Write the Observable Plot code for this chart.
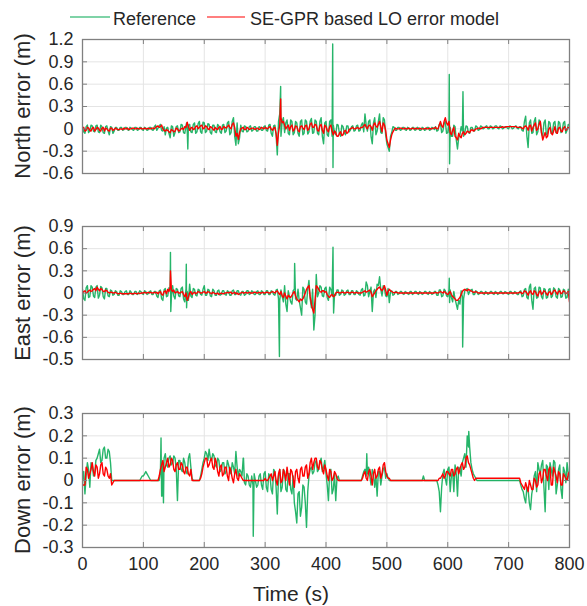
<!DOCTYPE html>
<html><head><meta charset="utf-8">
<script src="https://cdn.jsdelivr.net/npm/d3@7"></script>
<script src="https://cdn.jsdelivr.net/npm/@observablehq/plot@0.6"></script>
<style>
body{margin:0;background:#fff;font-family:"Liberation Sans",Arial,sans-serif;}
#root{position:relative;width:587px;height:606px;overflow:hidden;background:#fff;}
#root svg{position:absolute;left:0;}
.legline{position:absolute;height:2px;}
.legtext{position:absolute;font-size:18px;line-height:1;color:#262626;white-space:nowrap;}
.ylab{position:absolute;font-size:22px;line-height:1;color:#262626;white-space:nowrap;transform:translate(-50%,-50%) rotate(-90deg);}
</style></head><body><div id="root"></div>
<script>
// sampling step of the series (s); "Mid" arrays hold the samples halfway between
const step = 4;
const xTicks = [0,100,200,300,400,500,600,700,800];
const xTickLabels = ["0","100","200","300","400","500","600","700","800"];

const northTicks = [-0.6,-0.3,0,0.3,0.6,0.9,1.2];
const northTickLabels = ["-0.6","-0.3","0","0.3","0.6","0.9","1.2"];
const eastTicks = [-0.9,-0.6,-0.3,0,0.3,0.6,0.9];
const eastTickLabels = ["-0.5","-0.6","-0.3","0","0.3","0.6","0.9"];
const downTicks = [-0.3,-0.2,-0.1,0,0.1,0.2,0.3];
const downTickLabels = ["-0.3","-0.2","-0.1","0","0.1","0.2","0.3"];

const seriesNames = ["Reference","SE-GPR based LO error model"];
const panelTitles = ["North error (m)","East error (m)","Down error (m)"];
const xTitle = "Time (s)";

// North, reference
const northRef = [
0.02,-0.06,0.05,-0.03,0.04, -0.04,0.05,-0.05,0.03,-0.06, 0.04,-0.08,0.02,-0.03,0.02, -0.02,0.02,-0.01,0.02,-0.02,
0.01,-0.02,0.02,-0.01,0.02, -0.02,0.01,-0.01,0.02,-0.02, 0.05,0.01,0.06,-0.03,-0.08, 0.02,-0.12,0.03,-0.05,0.04,
-0.04,0.05,-0.06,-0.02,0.06, -0.05,0.08,-0.04,0.1,-0.06, 0.08,-0.03,0.06,-0.07,0.05, -0.05,0.04,-0.06,0.06,-0.03,
0.1,-0.05,0.15,-0.22,-0.2, 0.05,-0.04,0.03,-0.03,0.04, -0.02,0.03,-0.03,0.02,-0.02, 0.04,-0.03,0.06,-0.1,0.05,
-0.35,0.2,0.1,-0.05,0.12, -0.08,0.1,-0.05,0.08,-0.1, 0.12,-0.06,0.1,-0.04,0.14, -0.05,0.1,-0.08,0.15,-0.2,
0.1,-0.1,0.12,0.05,-0.08, 0.05,-0.1,0.03,-0.08,0.04, -0.02,0.04,-0.02,0.05,-0.02, 0.08,0.2,-0.03,0.12,-0.2,
0.15,-0.03,0.2,-0.06,0.12, -0.2,-0.3,-0.05,0.02,-0.02, 0.02,-0.01,0.02,-0.02,0.01, -0.01,0.02,-0.01,0.01,-0.02,
0.01,-0.01,0.02,-0.01,0.01, 0.03,-0.02,0.08,-0.03,0.1, -0.05,0.02,-0.1,0.03,-0.27, -0.08,-0.03,-0.05,0.03,-0.06,
0.02,-0.03,0.03,-0.01,0.03, 0.01,0.04,0,0.03,0.01, 0.04,0,0.03,0.01,0.03, 0,0.03,0.01,0.04,0,
0.03,-0.03,0.17,-0.25,0.12, -0.05,0.15,-0.04,0.1,-0.1, 0.12,-0.06,0.08,-0.05,0.1, -0.06,0.08,-0.03,0.1,-0.02,
0.05];
const northRefMid = [
-0.04,0.03,-0.05,0.05,-0.03, 0.04,-0.04,0.05,-0.05,0.03, -0.03,0.03,-0.06,0.02,-0.02, 0.02,-0.02,0.02,-0.01,0.02,
-0.01,0.02,-0.02,0.02,-0.01, 0.02,-0.02,0.02,-0.01,0.03, -0.02,0.04,-0.02,0.03,0.01, -0.06,0.04,-0.1,0.03,-0.05,
0.06,-0.05,0.04,0.05,-0.04, 0.06,-0.06,0.07,-0.04,0.09, -0.05,0.07,-0.05,0.05,-0.04, 0.06,-0.04,0.05,-0.05,0.08,
-0.08,0.1,-0.1,0.08,-0.12, -0.03,0.04,-0.04,0.03,-0.03, 0.03,-0.03,0.03,-0.02,0.03, -0.02,0.05,-0.06,0.04,-0.08,
0.1,-0.1,0.15,0.08,-0.06, 0.12,-0.08,0.1,-0.06,0.1, -0.08,0.12,-0.07,0.1,-0.06, 0.12,-0.06,0.1,-0.1,0.08,
-0.08,0.1,-0.1,-0.05,0.06, -0.06,0.05,-0.05,0.04,-0.04, 0.03,-0.03,0.04,-0.03,0.05, -0.04,0.05,0.1,-0.1,0.08,
-0.08,0.1,-0.05,0.15,-0.08, -0.25,-0.1,0.03,-0.02,0.02, -0.02,0.02,-0.01,0.02,-0.02, 0.02,-0.02,0.02,-0.02,0.02,
-0.02,0.02,-0.02,0.02,-0.01, -0.03,0.06,-0.05,0.07,-0.06, 0.08,-0.1,0.05,-0.15,-0.12, 0.03,-0.1,0.04,-0.05,0.02,
-0.02,0.04,-0.02,0.04,0, 0.03,0,0.04,0,0.04, 0.01,0.04,0,0.03,0.01, 0.04,0,0.03,0.01,0.03,
-0.02,0.1,-0.1,0.08,-0.06, 0.1,-0.08,0.12,-0.06,0.08, -0.08,0.1,-0.06,0.08,-0.05, 0.1,-0.05,0.08,-0.06,0.06];
const northRefSpikes = [[171,0.08],[173,-0.27],[325.5,0.57],[411,1.14],[411.5,-0.52],[602.5,0.73],[603,-0.47],[625,0.5]];

// North, SE-GPR model
const northModel = [
0,-0.03,0.02,-0.02,0.01, -0.03,0.02,-0.02,0.01,-0.03, 0,-0.03,0.01,-0.01,0, -0.01,0,0.01,0,-0.01,
0,0.01,0,0,0.01, 0,0,0.01,0,0.01, 0.02,0.04,0.03,0,-0.03, -0.02,-0.05,-0.02,-0.03,0,
-0.02,0.01,0.03,0.09,-0.02, 0.02,0,0.04,0.02,0.05, 0.01,0.03,-0.01,0.02,-0.02, 0,0.02,-0.01,0.03,0.01,
0.05,0,0.08,-0.1,-0.14, 0,0.02,-0.01,0.01,0, 0.01,-0.01,0.01,0,0.01, 0.02,0,0.03,-0.02,0.02,
-0.22,0.05,0.08,0.05,0.03, -0.02,0.05,-0.01,0.03,-0.04, 0.04,-0.01,0.05,0,0.08, 0.02,0.05,-0.03,0.06,-0.06,
0.03,-0.04,0.05,-0.08,-0.05, -0.1,-0.04,-0.08,-0.02,-0.05, 0,0.02,0,0.02,0.01, 0.02,0.06,0,0.05,-0.02,
0.08,0.02,0.1,-0.04,0.05, -0.15,-0.25,-0.08,-0.01,0, 0,0.01,0,0,0.01, 0,0,0.01,0,0,
0,0.01,0,0,0.01, 0.02,0,0.1,0.02,0.15, 0.05,-0.05,-0.02,-0.1,-0.15, -0.1,-0.06,-0.08,-0.03,-0.05,
-0.01,-0.02,0,0.01,0.01, 0.02,0.02,0.02,0.02,0.02, 0.02,0.02,0.02,0.02,0.03, 0.03,0.03,0.03,0.03,0.02,
0.02,0,0.04,-0.02,0.05, 0.02,0.08,0,0.1,-0.15, -0.05,-0.1,0.02,-0.08,0.03, -0.06,0.02,-0.04,0.03,0,
0.02];
const northModelMid = [
0.02,-0.02,0.01,-0.03,0.02, -0.01,0.01,-0.03,0.02,0.01, -0.02,0.01,-0.02,0.01,-0.01, 0,-0.01,0,0.01,0,
0.01,0,0.01,0,0, 0.01,0,0,0.01,0, 0.03,0.02,0.05,-0.02,-0.01, -0.04,-0.01,-0.04,0.01,-0.03,
0,-0.01,0.02,0.03,0.01, -0.01,0.03,0,0.04,0, 0.04,0,0.03,0,0.02, -0.01,0.03,0,0.02,0.03,
0.02,0.06,0.02,-0.06,-0.05, 0.01,-0.01,0.02,-0.01,0.01, 0,0.01,-0.01,0.02,0, 0.01,0.02,0,0.01,-0.06,
-0.05,0.15,0.1,0,0.05, 0.03,-0.03,0.04,-0.02,0.03, 0.01,0.04,-0.02,0.06,0.02, 0.06,-0.02,0.04,-0.02,0.05,
-0.02,0.03,-0.03,-0.03,-0.1, -0.06,-0.09,-0.03,-0.06,-0.01, 0.01,0,0.01,0,0.02, 0.04,0.02,0.04,0.03,0.05,
0.04,0.06,0.03,0.08,-0.02, -0.2,-0.15,-0.04,0.01,0, 0.01,0,0.01,0,0, 0.01,0,0,0.01,0,
0,0,0.01,0,0.01, 0,0.05,0.04,0.1,0.08, 0.1,-0.08,0.02,-0.12,-0.06, -0.12,-0.04,-0.06,-0.04,-0.02,
-0.03,0,0.01,0,0.02, 0.02,0.02,0.02,0.02,0.02, 0.02,0.02,0.03,0.02,0.03, 0.03,0.03,0.03,0.02,0.02,
0.01,0.03,0.02,0.04,-0.03, 0.05,-0.02,0.06,-0.05,-0.1, -0.12,0,-0.06,-0.03,-0.05, 0.01,-0.03,0.01,-0.02,0.02];
const northModelSpikes = [[325.5,0.4]];

// East, reference
const eastRef = [
0.05,-0.1,0.1,-0.05,0.08, -0.06,0.1,-0.03,0.07,-0.08, 0.06,-0.05,0.03,-0.02,0.02, -0.03,0.02,-0.02,0.03,-0.02,
0.01,-0.02,0.02,-0.01,0.02, -0.02,0.02,-0.01,0.03,-0.02, 0.02,-0.06,0.04,-0.1,0.06, -0.04,0.05,0.1,-0.08,0.05,
-0.05,0.08,-0.12,0.02,0.12, -0.06,0.05,-0.04,0.04,-0.03, 0.1,-0.03,0.04,-0.05,0.03, -0.03,0.04,-0.02,0.03,-0.03,
0.02,-0.03,0.04,-0.02,0.03, -0.03,0.02,-0.02,0.03,-0.01, 0.02,-0.02,0.03,-0.02,0.02, -0.02,0.03,-0.02,0.02,-0.03,
0.05,-0.1,-0.05,0.1,-0.25, -0.05,-0.15,0.05,-0.1,-0.1, -0.3,0.05,-0.15,0.17,-0.2, -0.5,0.25,0,0.08,-0.05,
0.08,-0.1,0.05,0.03,-0.03, 0.04,-0.02,0.03,-0.02,0.04, -0.02,0.03,-0.02,0.02,-0.03, 0.06,-0.03,0.1,0.02,-0.25,
0.05,0.12,0.22,-0.04,0.06, -0.05,-0.13,0.03,-0.02,0.02, -0.01,0.02,-0.02,0.01,-0.02, 0.02,-0.01,0.02,-0.02,0.01,
-0.01,0.02,-0.02,0.01,-0.01, 0.02,-0.03,0.04,-0.04,0.03, -0.05,0.04,-0.12,-0.08,-0.22, -0.15,-0.05,0.03,0.06,0.02,
0.05,-0.02,0.02,-0.01,0.02, -0.02,0.01,-0.01,0.02,-0.02, 0.01,-0.01,0.02,-0.01,0.01, -0.02,0.02,-0.01,0.01,-0.02,
0.03,-0.04,0.06,-0.08,0.12, -0.22,0.08,-0.06,0.07,-0.08, 0.05,-0.06,0.06,-0.04,0.05, -0.07,0.04,-0.05,0.04,-0.06,
0.02];
const eastRefMid = [
-0.08,0.07,-0.06,0.1,-0.04, 0.08,-0.07,0.09,-0.05,0.06, -0.04,0.04,-0.03,0.03,-0.03, 0.03,-0.02,0.02,-0.02,0.03,
-0.02,0.02,-0.02,0.03,-0.01, 0.03,-0.02,0.02,-0.02,0.02, -0.04,0.03,-0.08,0.04,-0.05, 0.07,-0.06,-0.04,0.06,-0.04,
0.06,-0.08,0.06,-0.1,-0.04, 0.06,-0.03,0.05,-0.02,0.05, -0.03,0.05,-0.04,0.05,-0.03, 0.03,-0.03,0.03,-0.02,0.03,
-0.03,0.03,-0.02,0.03,-0.02, 0.02,-0.03,0.03,-0.02,0.03, -0.02,0.02,-0.02,0.03,-0.02, 0.03,-0.02,0.03,-0.02,0.04,
-0.08,0.04,-0.12,-0.15,0.03, -0.12,0.03,-0.08,0.05,-0.2, 0.08,-0.12,0.05,-0.08,0.05, -0.3,-0.05,0.1,-0.04,0.06,
-0.06,0.08,-0.04,-0.02,0.04, -0.03,0.04,-0.03,0.03,-0.02, 0.03,-0.02,0.03,-0.02,0.04, -0.04,0.15,-0.05,0.08,0.02,
-0.06,0.1,0.05,0.1,-0.04, 0.06,0.02,-0.03,0.02,-0.02, 0.02,-0.01,0.02,-0.01,0.02, -0.02,0.02,-0.01,0.02,-0.02,
0.02,-0.01,0.02,-0.02,0.02, -0.03,0.04,-0.05,0.05,-0.04, 0.05,-0.06,0.02,-0.15,-0.1, 0.03,-0.08,0.05,-0.02,0.04,
-0.02,0.03,-0.02,0.02,-0.01, 0.02,-0.02,0.02,-0.01,0.02, -0.02,0.02,-0.01,0.02,-0.01, 0.02,-0.01,0.02,-0.02,0.02,
-0.05,0.05,-0.06,0.08,-0.1, 0.06,-0.07,0.08,-0.05,0.06, -0.07,0.05,-0.06,0.07,-0.05, 0.06,-0.06,0.05,-0.07,0.05];
const eastRefSpikes = [[144.5,0.55],[145,-0.25],[170.5,0.39],[171,-0.2],[323.5,-0.86],[348.5,0.4],[411.5,0.62],[412.5,-0.27],[602.5,0.2],[603,-0.13],[624.5,-0.73]];

// East, SE-GPR model
const eastModel = [
0,0.03,0.01,0.04,0.03, 0.06,0.08,0.03,0.05,0.02, 0.03,0,0.01,0,0, -0.01,-0.01,-0.01,-0.01,-0.01,
-0.01,-0.01,-0.01,0,0, 0,0,0.01,0.01,0, 0,-0.01,0.02,-0.03,0.03, 0.05,0.08,0.02,0,0.02,
0,0.02,-0.05,-0.1,0, -0.02,0.01,0,0.01,0, 0.02,0,0.01,-0.01,0, -0.01,-0.02,0,-0.01,0,
0,0.01,0,-0.01,-0.02, 0,0,0.01,0,0, 0,0.01,0,0,0.01, 0,0.01,0,0.02,0,
0.03,-0.02,-0.04,0,-0.08, -0.05,-0.03,0.02,-0.08,-0.12, -0.1,-0.04,0.05,0.1,-0.15, -0.27,0.1,0.05,0.01,0.03,
0.02,-0.05,-0.03,-0.05,0, 0.01,0,0.01,0,0.01, 0,0.01,0,0,0, 0.01,0.03,0.02,0.04,-0.05,
0,0.05,0.08,0.03,0.1, -0.03,0.05,0.02,0,0.01, 0,0,0,0,0, 0,0,0,0,0,
0,0,0,0,0, 0.01,0,0.02,0,0.01, -0.02,0.02,-0.05,-0.08,-0.1, -0.06,0.02,0.05,0.03,0.04,
0.02,0.01,0.01,0,0, 0,0,0,0,0, 0,0,0,0,0, 0,0,0,0,0,
0.01,0,0.02,-0.03,0.03, -0.02,0.02,-0.04,0.03,0, 0.02,-0.03,0.02,0,0.04, -0.02,0.03,0,0.02,0,
-0.12];
const eastModelMid = [
0.02,0,0.03,0.02,0.05, 0.03,0.05,0.06,0.02,0.04, 0.01,0.01,0,0.01,-0.01, 0,-0.01,-0.01,-0.01,0,
-0.01,0,-0.01,-0.01,0, 0.01,0,0,0,0.01, 0.01,0.01,-0.02,0.02,-0.01, 0.02,0.04,0.04,0.01,0,
0.01,-0.02,0,-0.06,0.02, 0,-0.01,0.02,0,0.01, 0,0.02,0,0.01,-0.01, 0,-0.01,-0.01,0,0.01,
0.01,-0.01,0.01,0,-0.01, 0.01,0,0,0.01,0, 0.01,0,0.01,0,0, 0.01,0,0.01,0.01,0.02,
0,0.02,-0.06,-0.04,-0.03, -0.06,0,-0.04,-0.1,-0.08, -0.08,0,0.08,-0.05,-0.22, -0.1,0.08,0.02,0.03,0.01,
-0.02,-0.06,-0.02,-0.04,0.01, 0,0.01,0,0.01,0, 0.01,0,0.01,0,0, 0.02,0.01,0.03,0.01,-0.02,
0.03,0.07,0.05,0.06,0.04, 0.02,0.03,0.01,0.01,0, 0,0,0,0,0, 0,0,0,0,0,
0,0,0,0,0, 0,0.01,0.01,0.02,-0.01, 0,-0.02,-0.06,-0.1,-0.08, -0.02,0.04,0.04,0.05,0.03,
0.01,0.02,0,0,0, 0,0,0,0,0, 0,0,0,0,0, 0,0,0,0,0.01,
-0.01,0.03,0,0.01,-0.01, 0.03,-0.02,0.01,-0.02,0.03, -0.01,0.01,-0.02,0.03,0.01, 0.02,-0.01,0.03,-0.01,0.02];
const eastModelSpikes = [[144.5,0.3]];

// Down, reference
const downRef = [
0,-0.06,0.08,-0.03,0.07, 0.03,0.1,0.14,0.09,0.15, 0.1,0.13,0,0,0, 0,0,0,0,0,
0,0,0,0,0.01, 0.02,0.04,0.02,0,0, 0,0,0.04,0.08,0.12, 0.06,0.11,0.08,0.1,-0.09,
0.09,0.04,0.08,0.03,0.12, 0.01,0,0,0,0.05, 0.1,0.12,0.14,0.09,0.11, 0.06,0.09,0.05,0.08,0.04,
0.07,0.03,0.06,0.13,0.02, 0.04,0.1,-0.02,0.02,-0.03, -0.02,0,-0.02,0.03,-0.04, 0.04,-0.05,0.02,-0.06,0.04,
-0.15,0.05,-0.03,0.04,-0.05, 0.03,-0.06,-0.1,-0.19,-0.05, -0.12,-0.03,-0.21,0.02,0.06, 0.04,0.09,0.05,0.1,0.06,
0.03,-0.09,0.05,-0.04,-0.09, 0.02,0,0,0,0, 0,0,0,0,0, 0.02,0.05,0.03,0.02,0.05,
-0.03,-0.07,0.04,0.02,0.06, 0.03,0,0,0,0, 0,0,0,0,0, 0,0,0,0,0,
0.02,0,0,0,0, 0,-0.02,-0.14,0.03,0.01, 0.05,-0.05,0.04,0.07,-0.07, 0.05,0.08,0.12,0.2,0.15,
0.05,0.02,0,0,0, 0,0,0,0,0, 0,0,0,0,0, 0,0,0,0,0,
-0.02,-0.05,-0.1,-0.04,-0.13, -0.03,0.04,0.08,0.03,0.09, -0.14,0.06,0.08,0.02,0.08, -0.02,0.07,-0.08,0.04,0.08,
0];
const downRefMid = [
0.04,0.02,0.05,0.08,0.02, 0.09,0.12,0.08,0.14,0.1, 0.14,0.08,0,0,0, 0,0,0,0,0,
0,0,0,0,0.02, 0.03,0.03,0.01,0,0, 0,0,-0.07,0.1,0.07, 0.1,0.07,0.11,0.05,0.09,
0.05,0.1,0.04,0.1,0.06, 0,0,0,0.02,0.08, 0.13,0.09,0.1,0.12,0.07, 0.1,0.04,0.08,0.03,0.09,
0.04,0.08,0.03,0.06,0.05, 0.02,-0.01,0.03,-0.02,0.02, 0.03,-0.03,0.02,-0.02,0.03, -0.03,0.03,-0.04,0.05,-0.03,
0.02,-0.05,0.05,-0.04,0.03, -0.04,0.02,-0.14,-0.06,-0.16, -0.02,-0.1,-0.05,0.05,0.03, 0.08,0.04,0.08,0.04,0.09,
-0.02,0.04,-0.06,0.03,0.01, 0,0,0,0,0, 0,0,0,0,0, 0.04,0.02,0.06,-0.02,0.03,
0.02,0.04,-0.02,0.05,0.01, 0.01,0,0,0,0, 0,0,0,0,0, 0,0,0,0,0,
0,0,0,0,0, 0,-0.05,-0.03,0.05,-0.02, 0.06,0.02,-0.05,0.03,0.06, 0.02,0.1,0.06,0.15,0.08,
0.03,0.01,0,0,0, 0,0,0,0,0, 0,0,0,0,0, 0,0,0,0,0,
-0.04,-0.08,-0.03,-0.1,-0.06, 0.02,-0.05,0.05,0.07,-0.03, 0.07,-0.04,0.05,0.09,-0.06, 0.05,-0.04,0.06,-0.01,0.03];
const downRefSpikes = [[129,0.19],[130.5,-0.07],[133,-0.1],[264.5,0.1],[280.5,-0.25],[467,0.12],[634.5,0.22]];

// Down, SE-GPR model
const downModel = [
-0.02,-0.02,0.05,0.03,0.08, 0.02,0.06,0.03,0.08,0.02, 0.05,0.01,-0.02,0,0, 0,0,0,0,0,
0,0,0,0,0, 0,0,0,0,0, 0,0,0.05,0.09,0.06, 0.1,0.07,0.09,0.04,0.08,
0.05,0.07,0.03,0.06,0.02, 0,0,0,0,0.03, 0.08,0.1,0.07,0.1,0.05, 0.08,0.02,0.07,0.03,0.06,
0,0.04,-0.01,0.05,0, 0.02,0,0,0,0, 0,0,0,0,0, 0.01,0,0.02,0,0.04,
-0.02,0.05,0,0.03,0.06, -0.02,0.04,-0.03,0.05,-0.01, 0.06,0.02,0.07,0.03,0.1, 0.08,0.1,0.05,0.08,0.03,
0.05,0,0.04,0.01,0.03, 0,0,0,0,0, 0,0,0,0,0, 0.01,0.04,0,0.05,-0.02,
0.05,0.02,0.06,0.03,0.08, 0.02,0.01,0,0,0, 0,0,0,0,0, 0,0,0,0,0,
0,0,0,0,0, 0,0,0.01,0.03,0.02, 0.04,0.02,0.05,0.03,0.06, 0.05,0.08,0.06,0.11,0.07,
0.03,0,0.01,0.01,0.01, 0.01,0.01,0.01,0.01,0.01, 0.01,0.01,0.01,0.01,0.01, 0.01,0.01,0.01,0.01,0.01,
-0.01,-0.03,-0.01,-0.05,-0.02, -0.04,0,-0.02,0.04,0.01, 0.05,0,0.06,-0.02,0.04, -0.01,0.03,-0.02,0.02,0,
0.04];
const downModelMid = [
-0.02,0.06,0.01,0.05,0.04, 0.07,0.01,0.07,0.03,0.06, 0.02,0.03,-0.01,0,0, 0,0,0,0,0,
0,0,0,0,0, 0,0,0,0,0, 0,0.02,0.07,0.04,0.08, 0.06,0.1,0.05,0.07,0.05,
0.08,0.04,0.06,0.03,0.05, 0,0,0,0.01,0.06, 0.1,0.06,0.09,0.06,0.1, 0.04,0.06,0.02,0.06,0.02,
0.06,0.01,0.03,0.01,0.03, 0.01,0,0,0,0, 0,0,0,0,0, 0,0.01,0.03,0.02,0,
0.03,-0.01,0.05,0,0.02, 0.05,0.01,0.04,0.01,0.05, 0.02,0.06,0.01,0.08,0.05, 0.1,0.06,0.09,0.05,0.07,
0.02,0.05,0,0.04,0.01, 0,0,0,0,0, 0,0,0,0,0, 0.03,0.01,0.04,0.02,0.03,
0.01,0.05,0.01,0.07,0.04, 0.01,0,0,0,0, 0,0,0,0,0, 0,0,0,0,0,
0,0,0,0,0, 0,0.01,0.02,0.01,0.04, 0.03,0.05,0.02,0.05,0.03, 0.07,0.05,0.1,0.08,0.05,
0.01,0.01,0.01,0.01,0.01, 0.01,0.01,0.01,0.01,0.01, 0.01,0.01,0.01,0.01,0.01, 0.01,0.01,0.01,0.01,0.01,
-0.02,-0.04,-0.03,0,-0.04, 0.01,-0.03,0.03,-0.01,0.05, 0.02,0.05,-0.02,0.06,0.02, 0.04,-0.02,0.03,0.01,0.03];
const downModelSpikes = [];

const GREEN = "#00a850";
const RED = "#ff0000";
const FRAME = "#808080";
const GRID = "#e4e4e4";
const TEXT = "#262626";

function series(values, mids, spikes) {
  const pts = values.map((v, i) => ({t: i * step, v}));
  mids.forEach((v, i) => pts.push({t: i * step + step / 2, v}));
  for (const [t, v] of spikes) pts.push({t, v});
  return pts.sort((a, b) => a.t - b.t);
}

const W = 587, ML = 82, MR = 18;
const root = document.getElementById("root");

function panel(o) {
  const innerW = W - ML - MR, innerH = o.height - o.mt - o.mb;
  const marks = [
    Plot.gridX(xTicks, {stroke: GRID, strokeOpacity: 1}),
    Plot.gridY(o.ticks, {stroke: GRID, strokeOpacity: 1}),
    Plot.line(o.ref, {x: "t", y: "v", stroke: GREEN, strokeWidth: 1.4, strokeOpacity: 0.85, clip: true}),
    Plot.line(o.model, {x: "t", y: "v", stroke: RED, strokeWidth: 1.4, clip: true}),
    Plot.ruleY(o.ticks, {insetRight: innerW - 5, stroke: FRAME}),
    Plot.ruleY(o.ticks, {insetLeft: innerW - 5, stroke: FRAME}),
    Plot.ruleX(xTicks, {insetTop: innerH - 5, stroke: FRAME}),
    Plot.ruleX(xTicks, {insetBottom: innerH - 5, stroke: FRAME}),
    Plot.frame({stroke: FRAME, strokeWidth: 1.3}),
    Plot.axisY(o.ticks, {tickSize: 0, tickPadding: 9, fontSize: 18, label: null,
      tickFormat: d => o.labels[o.ticks.indexOf(d)]})
  ];
  if (o.showX) {
    marks.push(
      Plot.axisX(xTicks, {tickSize: 0, tickPadding: 10, fontSize: 18, label: null,
        tickFormat: d => xTickLabels[xTicks.indexOf(d)]}),
      Plot.text([xTitle], {frameAnchor: "bottom", dx: -35, dy: 53, lineAnchor: "bottom", fontSize: 21, text: d => d, fill: TEXT})
    );
  }
  const svg = Plot.plot({
    width: W, height: o.height,
    marginLeft: ML, marginRight: MR, marginTop: o.mt, marginBottom: o.mb,
    x: {domain: [0, 800], axis: null},
    y: {domain: o.domain, axis: null},
    style: {fontFamily: "'Liberation Sans', Arial, sans-serif", color: TEXT, background: "transparent", overflow: "visible"},
    marks
  });
  svg.style.top = o.top + "px";
  root.appendChild(svg);
  // rotated y-axis title, centred on the frame
  const lab = document.createElement("div");
  lab.className = "ylab";
  lab.style.left = "23px";
  lab.style.top = (o.top + o.mt + innerH / 2) + "px";
  lab.textContent = o.title;
  root.appendChild(lab);
}

panel({top: 0, height: 180, mt: 39, mb: 7, domain: [-0.6, 1.2], ticks: northTicks, labels: northTickLabels,
  title: panelTitles[0], ref: series(northRef, northRefMid, northRefSpikes), model: series(northModel, northModelMid, northModelSpikes)});
panel({top: 180, height: 185, mt: 46, mb: 6, domain: [-0.9, 0.9], ticks: eastTicks, labels: eastTickLabels,
  title: panelTitles[1], ref: series(eastRef, eastRefMid, eastRefSpikes), model: series(eastModel, eastModelMid, eastModelSpikes)});
panel({top: 365, height: 241, mt: 48, mb: 59, domain: [-0.3, 0.3], ticks: downTicks, labels: downTickLabels,
  title: panelTitles[2], ref: series(downRef, downRefMid, downRefSpikes), model: series(downModel, downModelMid, downModelSpikes), showX: true});

// legend
function legItem(left, lineW, color, label, textLeft) {
  const l = document.createElement("div");
  l.className = "legline";
  l.style.left = left + "px"; l.style.top = "16px"; l.style.width = lineW + "px";
  l.style.background = color; l.style.opacity = "0.5";
  root.appendChild(l);
  const t = document.createElement("div");
  t.className = "legtext";
  t.style.left = textLeft + "px"; t.style.top = "10px";
  t.textContent = label;
  root.appendChild(t);
}
legItem(70, 40, GREEN, seriesNames[0], 113);
legItem(207, 38, RED, seriesNames[1], 250);
</script>
</body></html>
